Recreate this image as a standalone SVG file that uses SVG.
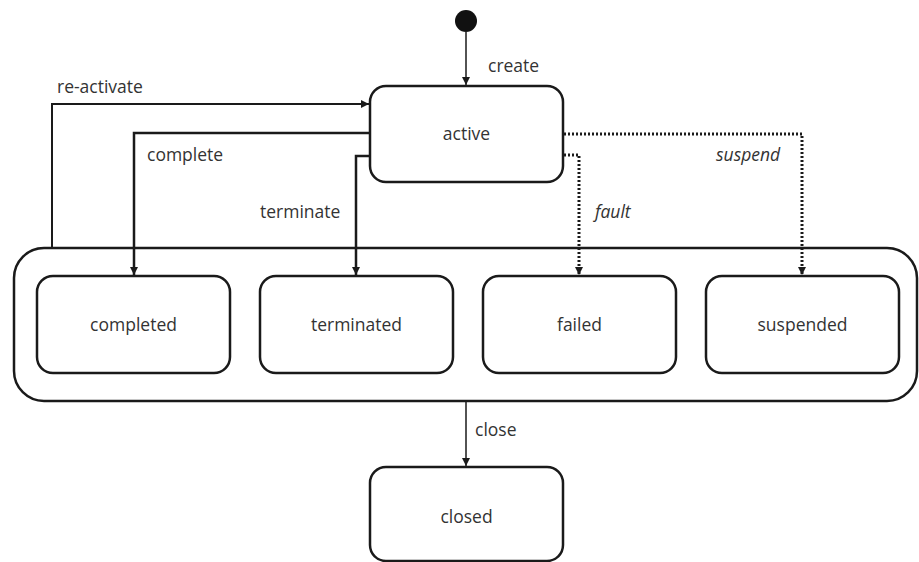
<svg xmlns="http://www.w3.org/2000/svg" width="919" height="562" viewBox="0 0 919 562">
  <style>
    .state { fill: #ffffff; stroke: #1a1a1a; stroke-width: 2.5; }
    .label { font-family: "Open Sans", "Liberation Sans", sans-serif; font-size: 17.5px; fill: #333333; }
    .name { text-anchor: middle; }
    .em { font-style: italic; }
    .thin { fill: none; stroke: #1a1a1a; stroke-width: 1.5; }
    .mid { fill: none; stroke: #1a1a1a; stroke-width: 2; }
    .bold { fill: none; stroke: #1a1a1a; stroke-width: 2.5; }
    .dot { fill: none; stroke: #1a1a1a; stroke-width: 3; stroke-dasharray: 2 2; }
  </style>
  <defs>
    <marker id="arrow" viewBox="0 0 10 10" refX="10" refY="5" markerWidth="8" markerHeight="8" markerUnits="userSpaceOnUse" orient="auto">
      <path d="M0,0 L10,5 L0,10 z" fill="#1a1a1a"/>
    </marker>
  </defs>

  <rect width="919" height="562" fill="#ffffff"/>

  <!-- initial pseudo-state -->
  <g id="initial">
    <circle cx="466" cy="21" r="11" fill="#111111"/>
  </g>

  <!-- composite container holding the end states -->
  <g id="finished-group">
    <rect class="state" x="14" y="248" width="903" height="153" rx="30"/>
  </g>

  <g id="active">
    <rect class="state" x="370" y="86" width="193" height="96" rx="16"/>
    <text class="label name" x="466.5" y="140">active</text>
  </g>

  <g id="completed">
    <rect class="state" x="37" y="276" width="193" height="97" rx="16"/>
    <text class="label name" x="133.5" y="331">completed</text>
  </g>

  <g id="terminated">
    <rect class="state" x="260" y="276" width="193" height="97" rx="16"/>
    <text class="label name" x="356.5" y="331">terminated</text>
  </g>

  <g id="failed">
    <rect class="state" x="483" y="276" width="193" height="97" rx="16"/>
    <text class="label name" x="579.5" y="331">failed</text>
  </g>

  <g id="suspended">
    <rect class="state" x="706" y="276" width="193" height="97" rx="16"/>
    <text class="label name" x="802.5" y="331">suspended</text>
  </g>

  <g id="closed">
    <rect class="state" x="370" y="467" width="193" height="94" rx="16"/>
    <text class="label name" x="466.5" y="523">closed</text>
  </g>

  <!-- transitions -->
  <g id="connectors">
    <path class="thin" d="M466,32 V85" marker-end="url(#arrow)"/>
    <text class="label" x="488" y="72">create</text>

    <path class="mid" d="M52,248 V104 H369" marker-end="url(#arrow)"/>
    <text class="label" x="57" y="93">re-activate</text>

    <path class="bold" d="M370,133 H134 V275" marker-end="url(#arrow)"/>
    <text class="label" x="147" y="161">complete</text>

    <path class="bold" d="M370,156 H356 V275" marker-end="url(#arrow)"/>
    <text class="label" x="260" y="218">terminate</text>

    <path class="dot" d="M564,155 H579 V275" marker-end="url(#arrow)"/>
    <text class="label em" x="595" y="218">fault</text>

    <path class="dot" d="M564,134 H802 V275" marker-end="url(#arrow)"/>
    <text class="label em" x="716" y="161">suspend</text>

    <path class="thin" d="M466,402 V466" marker-end="url(#arrow)"/>
    <text class="label" x="475" y="436">close</text>
  </g>
</svg>
